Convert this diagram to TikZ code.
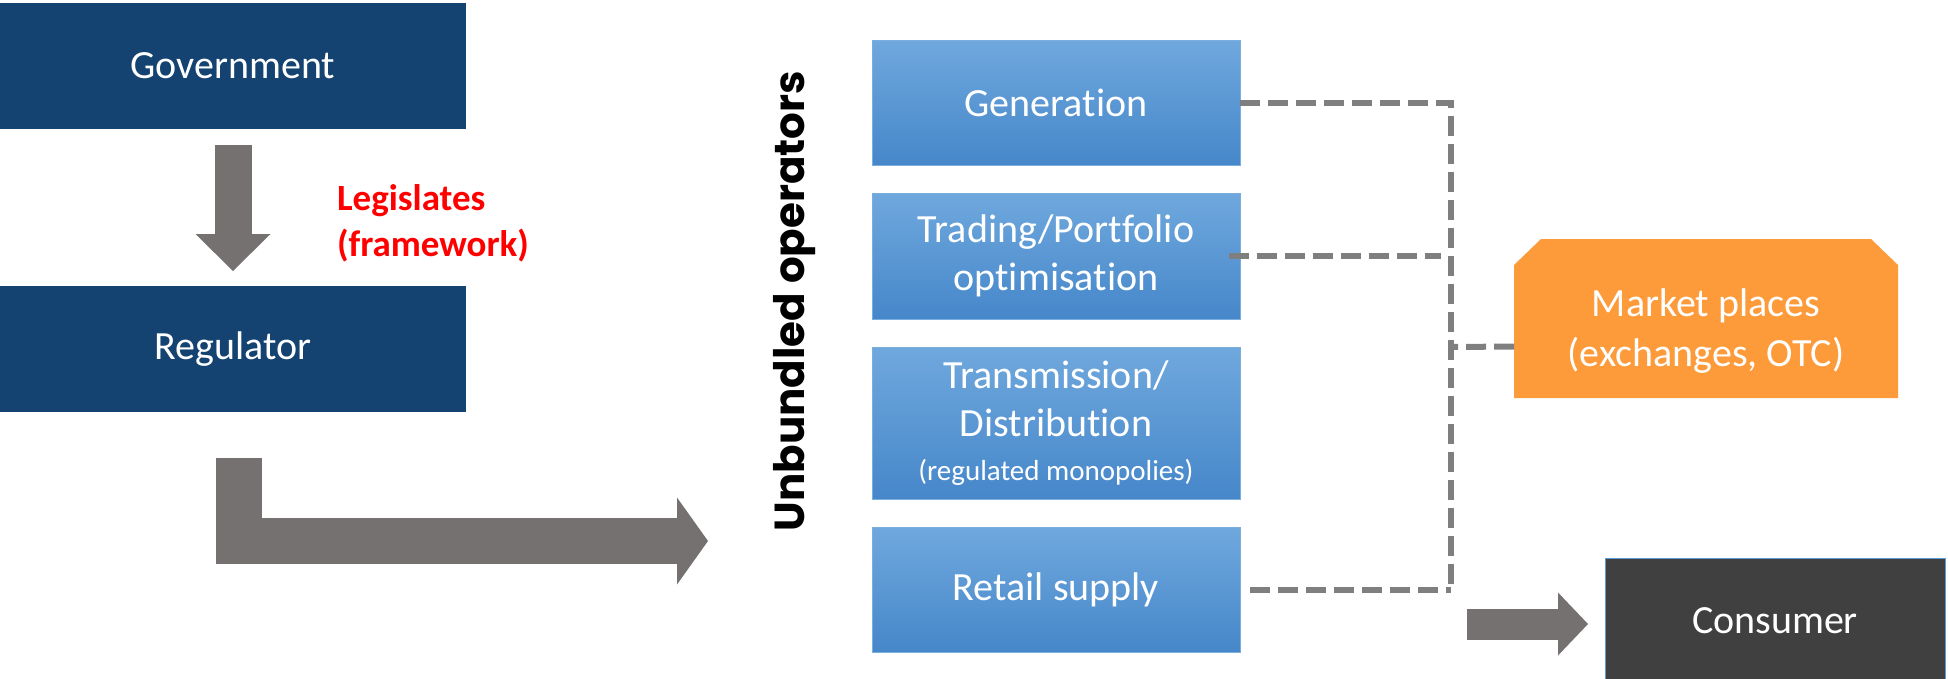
\documentclass[tikz,border=0pt]{standalone}
\usepackage{fontspec}
\setmainfont[Ligatures=NoCommon]{Carlito}
\newfontfamily\opsfont{Poppins}
\usetikzlibrary{arrows.meta,calc}

\definecolor{navy}{HTML}{144372}
\definecolor{arrowgray}{HTML}{767171}
\definecolor{dashgray}{HTML}{7F7F7F}
\definecolor{bluetop}{HTML}{6FA8DD}
\definecolor{bluebot}{HTML}{4687CA}
\definecolor{blueline}{HTML}{7AAEDF}
\definecolor{marketorange}{HTML}{FD9B3A}
\definecolor{consumergray}{HTML}{404040}
\definecolor{consumerline}{HTML}{5B9BD5}

\begin{document}
\begin{tikzpicture}[x=1pt,y=-1pt]
        \tikzstyle{govbox}=[rectangle, fill=navy, text=white,
            minimum width=466pt, minimum height=126pt, inner sep=0pt,
            outer sep=0pt, font=\fontsize{40}{48}\selectfont]
        \tikzstyle{unitbox}=[rectangle, draw=blueline, line width=1pt,
            top color=bluetop, bottom color=bluebot, text=white,
            minimum width=368pt, align=center, inner sep=0pt,
            outer sep=0pt, font=\fontsize{40}{48}\selectfont]
        \tikzstyle{marketbox}=[rectangle, text=white, align=center,
            inner sep=0pt, minimum width=384pt, minimum height=159pt,
            outer sep=0pt, font=\fontsize{40}{50}\selectfont,
            path picture={\fill[marketorange]
                (path picture bounding box.south west)
                -- ([yshift=-26pt]path picture bounding box.north west)
                -- ([xshift=27pt]path picture bounding box.north west)
                -- ([xshift=-27pt]path picture bounding box.north east)
                -- ([yshift=-26pt]path picture bounding box.north east)
                -- (path picture bounding box.south east) -- cycle;}]
        \tikzstyle{consumerbox}=[rectangle, fill=consumergray,
            draw=consumerline, line width=1pt, text=white,
            minimum width=340pt, minimum height=126pt, inner sep=0pt,
            outer sep=0pt, font=\fontsize{40}{48}\selectfont]
        \tikzstyle{blockarrow}=[draw=arrowgray, line join=miter]
        \tikzstyle{dashline}=[draw=dashgray, line width=6pt,
            dash pattern=on 20pt off 8pt]

        \useasboundingbox (0,0) rectangle (1948,678);

        \node[govbox] (gov) at (233, 65.5) {Government};
        \node[govbox] (reg) at (233, 349) {Regulator};
        \node[text=red, align=left, font=\fontsize{37}{46}\selectfont\bfseries]
            (law) at (433, 223) {Legislates\\(framework)};

        \node[rotate=90, font=\fontsize{42}{50}\selectfont\opsfont\bfseries]
            (ops) at (795, 301) {Unbundled operators};

        \node[unitbox, minimum height=125pt] (gen) at (1056, 102.5) {Generation};
        \node[unitbox, minimum height=126pt] (trd) at (1056, 256)
            {Trading/Portfolio\\optimisation};
        \node[unitbox, minimum height=152pt] (trn) at (1056, 423)
            {Transmission/\\Distribution\\[-4pt]{\fontsize{29}{34}\selectfont(regulated monopolies)}};
        \node[unitbox, minimum height=125pt] (rtl) at (1056, 589.5) {Retail supply};

        \node[marketbox] (mkt) at (1706, 318.5)
            {\rule{0pt}{52pt}Market places\\(exchanges, OTC)};
        \node[consumerbox] (con) at (1775, 621) {Consumer};

        \coordinate (jn) at (1451, 347);
        \coordinate (feed) at (708, 541);

        \draw[blockarrow, line width=37pt,
            -{Triangle[length=37pt, width=75pt, line width=0pt]}]
            ($(gov.south)+(0,16)$) -- ($(reg.north)+(0,-15)$);
        \draw[blockarrow, line width=46pt,
            -{Triangle[length=31pt, width=87pt, line width=0pt]}]
            ($(reg.south)+(6,46)$) |- (feed);
        \draw[blockarrow, line width=31pt,
            -{Triangle[length=30pt, width=63pt, line width=0pt]}]
            ($(con.west)+(-138,3)$) -- ($(con.west)+(-17,3)$);

        \draw[dashline] (gen.east) -- (gen.east -| jn) -- (rtl.east -| jn);
        \draw[dashline] ($(rtl.east)+(10,0)$) -- (rtl.east -| jn);
        \draw[dashline] ($(trd.east)+(-11,0)$) -- ($(trd.east -| jn)+(-10,0)$);
        \draw[dashline] ($(mkt.west)+(0,28)$) -- (jn);

    \end{tikzpicture}
\end{document}
